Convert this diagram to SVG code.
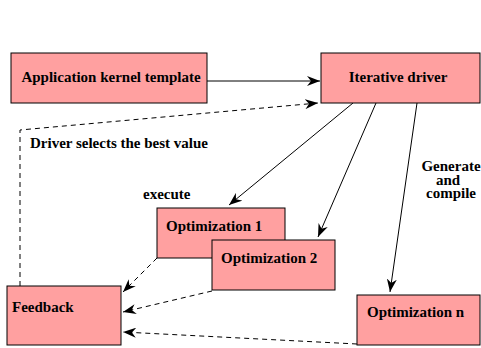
<svg xmlns="http://www.w3.org/2000/svg" width="481" height="348" viewBox="0 0 481 348">
<style>
.box{fill:#ffa0a0;stroke:#000;stroke-width:1}
.t{font-family:"Liberation Serif",serif;font-weight:bold;font-size:15px;fill:#000}
.c{fill:none;stroke:#000;stroke-width:1}
.d{stroke-dasharray:5,4}
</style>
<defs>
<marker id="ah" markerWidth="14" markerHeight="10" refX="13" refY="5" orient="auto" markerUnits="userSpaceOnUse">
<path d="M0,0 L13,5 L0,10 L4,5 z" fill="#000"/>
</marker>
</defs>
<rect width="481" height="348" fill="#fff"/>
<g id="connectors">
<line class="c" x1="207" y1="81" x2="320" y2="81" marker-end="url(#ah)"/>
<polyline class="c d" points="20,286 20,130 318,103" marker-end="url(#ah)"/>
<line class="c" x1="353" y1="103" x2="229" y2="205" marker-end="url(#ah)"/>
<line class="c" x1="376" y1="103" x2="318" y2="237" marker-end="url(#ah)"/>
<line class="c" x1="417" y1="103" x2="390" y2="292" marker-end="url(#ah)"/>
<line class="c d" x1="157" y1="258" x2="123" y2="292" marker-end="url(#ah)"/>
<line class="c d" x1="212" y1="291" x2="123" y2="312" marker-end="url(#ah)"/>
<line class="c d" x1="357" y1="344" x2="123" y2="332" marker-end="url(#ah)"/>
</g>
<g id="app"><rect class="box" x="11" y="53" width="196" height="50"/><text class="t" x="111" y="82" text-anchor="middle">Application kernel template</text></g>
<g id="driver"><rect class="box" x="321" y="53" width="159" height="50"/><text class="t" x="398" y="82" text-anchor="middle">Iterative driver</text></g>
<g id="opt1"><rect class="box" x="157" y="208" width="128" height="50"/><text class="t" x="166" y="231">Optimization 1</text></g>
<g id="opt2"><rect class="box" x="212" y="240" width="123" height="50"/><text class="t" x="221" y="263">Optimization 2</text></g>
<g id="feedback"><rect class="box" x="7" y="286" width="114" height="59"/><text class="t" x="12" y="312">Feedback</text></g>
<g id="optn"><rect class="box" x="357" y="295" width="123" height="50"/><text class="t" x="367" y="317">Optimization n</text></g>
<g id="labels">
<text class="t" x="30" y="148">Driver selects the best value</text>
<text class="t" x="143" y="199">execute</text>
<text class="t" x="451" y="171" text-anchor="middle">Generate</text>
<text class="t" x="448" y="185" text-anchor="middle">and</text>
<text class="t" x="451" y="198" text-anchor="middle">compile</text>
</g>
</svg>
